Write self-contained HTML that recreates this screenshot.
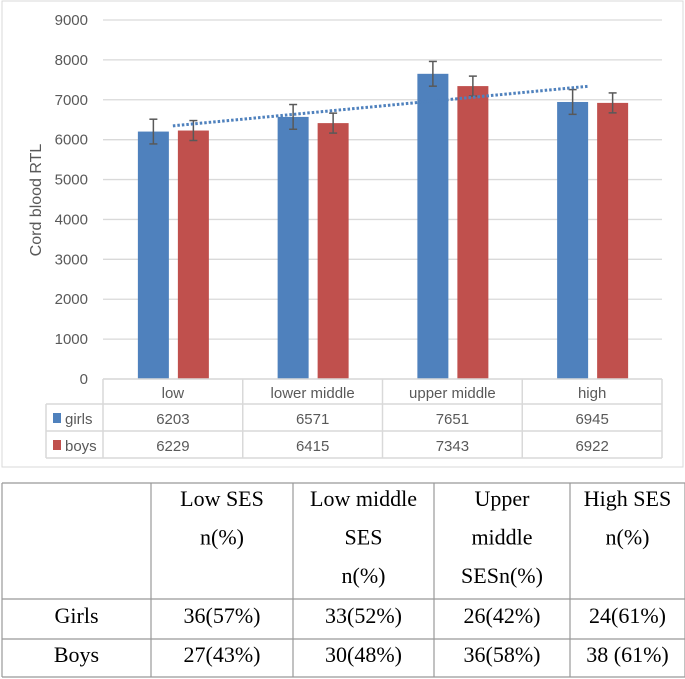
<!DOCTYPE html>
<html><head><meta charset="utf-8"><style>
body{margin:0;background:#fff;width:685px;height:679px;overflow:hidden;font-family:"Liberation Sans",sans-serif}
svg{position:absolute;left:0;top:0}
</style></head><body>
<svg id="chart" width="685" height="679"></svg>
<script>
const categories=["low","lower middle","upper middle","high"];
const girls=[6203,6571,7651,6945];
const boys=[6229,6415,7343,6922];
const girlsErr=[310,310,310,310];
const boysErr=[250,250,250,250];
const yTicks=[0,1000,2000,3000,4000,5000,6000,7000,8000,9000];
const tblHead=["","Low SES|n(%)","Low middle|SES|n(%)","Upper|middle|SESn(%)","High SES|n(%)"];
const tblGirls=["Girls","36(57%)","33(52%)","26(42%)","24(61%)"];
const tblBoys=["Boys","27(43%)","30(48%)","36(58%)","38 (61%)"];

const NS="http://www.w3.org/2000/svg";
const svg=document.getElementById('chart');
function mk(t,a,p){const e=document.createElementNS(NS,t);for(const k in a)e.setAttribute(k,a[k]);(p||svg).appendChild(e);return e;}
const L=103,R=662,T0=20,B0=379,yMax=9000;
const y=v=>B0-(v/yMax)*(B0-T0);
const cw=(R-L)/categories.length;
const cx=i=>L+cw*(i+0.5);

let e=mk('rect',{x:2,y:1,width:681,height:466,fill:'#fff',stroke:'#d9d9d9'});


yTicks.forEach(t=>{
  const g=mk('line',{x1:L,x2:R,y1:y(t),y2:y(t),stroke:'#d9d9d9','stroke-width':1.3});
  
  const tx=mk('text',{x:88,y:y(t)+5,'text-anchor':'end','font-size':15,fill:'#595959'});tx.textContent=t;
  
});
e=mk('text',{transform:'translate(41,200) rotate(-90)','text-anchor':'middle','font-size':16,fill:'#595959'});e.textContent='Cord blood RTL';


function err(x,v,d){
  const g=mk('g',{stroke:'#595959','stroke-width':1.5});
  
  mk('line',{x1:x,x2:x,y1:y(v+d),y2:y(v-d)},g);
  mk('line',{x1:x-4,x2:x+4,y1:y(v+d),y2:y(v+d)},g);
  mk('line',{x1:x-4,x2:x+4,y1:y(v-d),y2:y(v-d)},g);
}
categories.forEach((c,i)=>{
  const gx=cx(i)-35, bx=cx(i)+5;
  let b=mk('rect',{x:gx,y:y(girls[i]),width:31,height:B0-y(girls[i]),fill:'#4f81bd'});
  
  b=mk('rect',{x:bx,y:y(boys[i]),width:31,height:B0-y(boys[i]),fill:'#c0504d'});
  
  err(gx+15.5,girls[i],girlsErr[i]);err(bx+15.5,boys[i],boysErr[i]);
});
const n=girls.length,mx=(n+1)/2,my=girls.reduce((a,b)=>a+b)/n;
let sxy=0,sxx=0;girls.forEach((v,i)=>{sxy+=(i+1-mx)*(v-my);sxx+=(i+1-mx)**2});
const sl=sxy/sxx,ic=my-sl*mx;
e=mk('line',{x1:cx(0),y1:y(ic+sl),x2:cx(n-1)-4,y2:y(ic+sl*n),stroke:'#4f81bd','stroke-width':3,'stroke-dasharray':'2.5 2'});


const tg=mk('g',{stroke:'#d9d9d9','stroke-width':1.5,fill:'none'});

mk('line',{x1:L,x2:R,y1:379,y2:379},tg);
mk('line',{x1:46,x2:R,y1:404,y2:404},tg);
mk('line',{x1:46,x2:R,y1:431,y2:431},tg);
mk('line',{x1:46,x2:R,y1:458,y2:458},tg);
mk('line',{x1:46,x2:46,y1:404,y2:458},tg);
for(let i=0;i<=categories.length;i++)mk('line',{x1:L+cw*i,x2:L+cw*i,y1:379,y2:458},tg);
categories.forEach((c,i)=>{
  let t=mk('text',{x:cx(i),y:398,'text-anchor':'middle','font-size':15,fill:'#595959'});t.textContent=c;
  
  t=mk('text',{x:cx(i),y:424,'text-anchor':'middle','font-size':15,fill:'#595959'});t.textContent=girls[i];
  
  t=mk('text',{x:cx(i),y:451,'text-anchor':'middle','font-size':15,fill:'#595959'});t.textContent=boys[i];
  
});
[['girls','#4f81bd',424],['boys','#c0504d',451]].forEach(([s,c,yy])=>{
  let r=mk('rect',{x:53,y:yy-11,width:8,height:10,fill:c});
  
  let t=mk('text',{x:65,y:yy,'font-size':15,fill:'#595959'});t.textContent=s;
  
});

const colX=[2,151,293,434,570,685];
const rowY=[483,599,639,677];
const bt=mk('g',{stroke:'#999','stroke-width':1.2});

rowY.forEach(v=>mk('line',{x1:2,x2:685,y1:v,y2:v},bt));
colX.forEach(v=>mk('line',{x1:v,x2:v,y1:483,y2:677},bt));
const tf='"Liberation Serif",serif';
tblHead.forEach((h,i)=>{
  if(!h)return;
  h.split('|').forEach((ln,k)=>{
    const t=mk('text',{x:(colX[i]+colX[i+1])/2,y:506+k*38.5,'text-anchor':'middle','font-size':22,'font-family':tf,fill:'#000'});
    t.textContent=ln;
  });
});
[[tblGirls,623],[tblBoys,662]].forEach(([r,yy])=>{
  r.forEach((v,i)=>{
    const t=mk('text',{x:(colX[i]+colX[i+1])/2,y:yy,'text-anchor':'middle','font-size':22,'font-family':tf,fill:'#000'});
    t.textContent=v;
  });
});
</script>
</body></html>
